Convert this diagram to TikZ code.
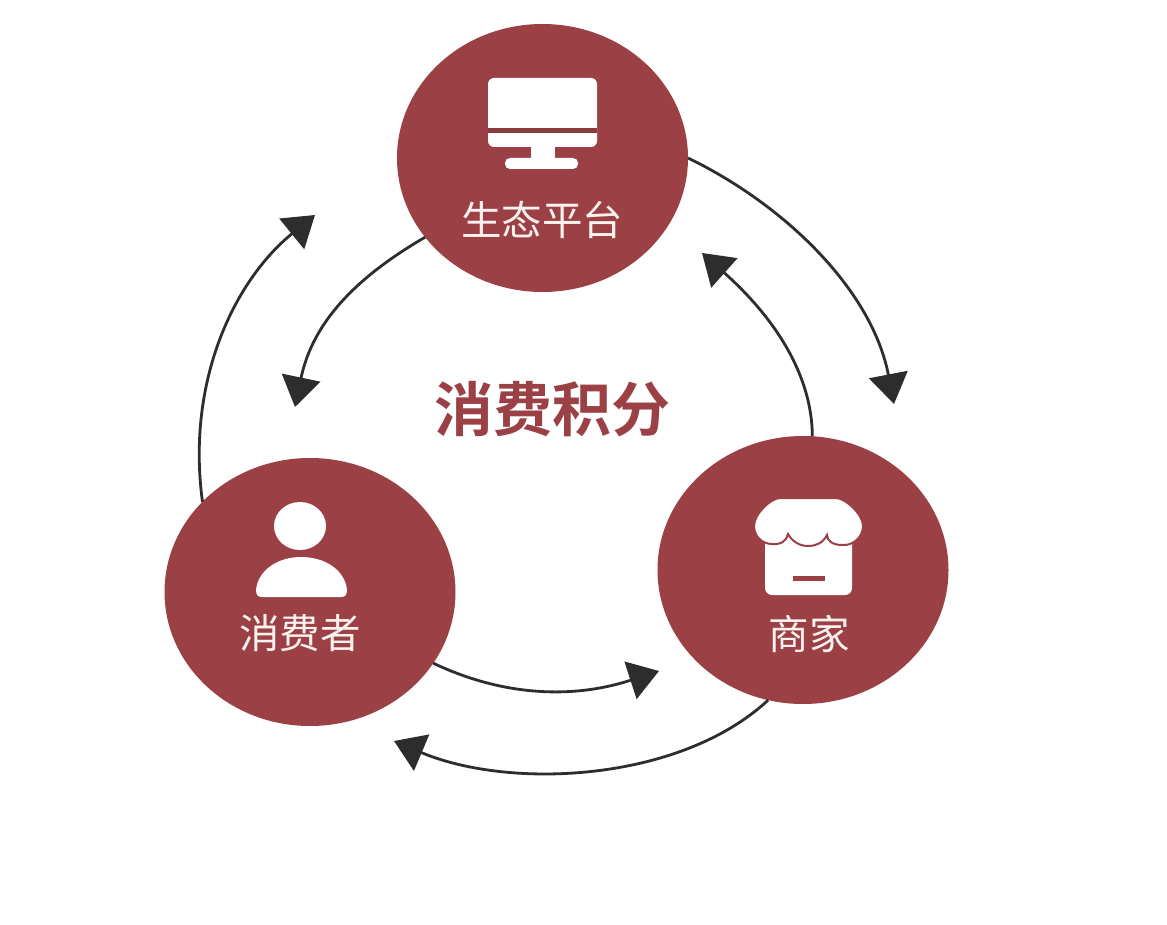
\documentclass[tikz,border=0pt]{standalone}
\usepackage{fontspec}
\newfontfamily\cjk{Noto Sans CJK SC}[BoldFont={Noto Sans CJK SC Bold}]
\usetikzlibrary{arrows.meta,shapes.geometric}
\definecolor{maroon}{HTML}{9B4045}
\definecolor{inkdark}{HTML}{2D2D2D}
\definecolor{paper}{HTML}{FBF1EF}
\tikzset{
  hub/.style={ellipse,fill=maroon,minimum width=291pt,minimum height=268pt,inner sep=0pt,outer sep=0pt},
  hublabel/.style={text=paper,font=\cjk\fontsize{40.5pt}{41pt}\selectfont,inner sep=0pt},
  titlelabel/.style={text=maroon,font=\cjk\bfseries\fontsize{59pt}{60pt}\selectfont,inner sep=0pt},
  link/.style={draw=inkdark,line width=2.8pt,-{Triangle[length=30pt,width=39pt]}},
  icon/.style={fill=white,draw=none},
}
\begin{document}
\begin{tikzpicture}[x=1pt,y=-1pt]
\useasboundingbox (0,0) rectangle (1167,925);
\fill[white] (0,0) rectangle (1167,925);
% free ends of the connectors
\coordinate (tipRight) at (894,404);
\coordinate (tipLeft) at (295,407);
\coordinate (tipUpLeft) at (315,215);
\coordinate (tipUpRight) at (702,253);
\coordinate (tipShop) at (659,671);
\coordinate (tipUser) at (394,741);
% hubs
\node[hub] (platform) at (542.5,158) {};
\node[hub] (user) at (310,592) {};
\node[hub] (shop) at (803,570) {};
% connectors
\draw[link] (platform.0) .. controls (785,205) and (872,290) .. (tipRight);
\draw[link] (platform.214.8) .. controls (355,278) and (312.5,323) .. (tipLeft);
\draw[link] (user.140) .. controls (186,380) and (235,280) .. (tipUpLeft);
\draw[link] (shop.86.5) .. controls (812,375) and (775,318) .. (tipUpRight);
\draw[link] (user.-30.7) .. controls (500,695) and (570,700) .. (tipShop);
\draw[link] (shop.255.8) .. controls (680,782) and (510,790) .. (tipUser);
% labels
\node[hublabel] (lblPlatform) at (542,220) {生态平台};
\node[hublabel] (lblUser) at (300,633) {消费者};
\node[hublabel] (lblShop) at (809,634) {商家};
\node[titlelabel] (title) at (552,409) {消费积分};
% monitor icon
\fill[icon,rounded corners=6pt] (488,78) rectangle (597,147);
\fill[maroon!90!black] (488,128) rectangle (597,133);
\fill[icon] (531,146) rectangle (555,160);
\fill[icon,rounded corners=5pt] (505,158) rectangle (578,169);
% person icon
\fill[icon] (300,526) ellipse [x radius=26,y radius=24];
\fill[icon] (256,590) .. controls (258,570) and (278,557) .. (301,557)
  .. controls (325,557) and (345,570) .. (347,590)
  .. controls (347,595) and (345,597) .. (341,597)
  -- (262,597) .. controls (258,597) and (256,595) .. (256,590) -- cycle;
% shop icon
\fill[icon,rounded corners=7pt] (765,535) rectangle (852,595);
\fill[maroon] (793,576) rectangle (825,581);
\fill[icon,draw=maroon,line width=2pt]
  (780,498) -- (836,498)
  .. controls (845,498) and (863,514) .. (863,526)
  .. controls (863,538) and (852,546) .. (842,545)
  .. controls (833,545) and (827,541) .. (827,535)
  .. controls (823,543) and (816,546) .. (808,546)
  .. controls (799,546) and (792,541) .. (788,534)
  .. controls (787,541) and (780,545) .. (772,544)
  .. controls (762,544) and (754,536) .. (754,526)
  .. controls (754,514) and (771,498) .. (780,498) -- cycle;
\end{tikzpicture}
\end{document}
